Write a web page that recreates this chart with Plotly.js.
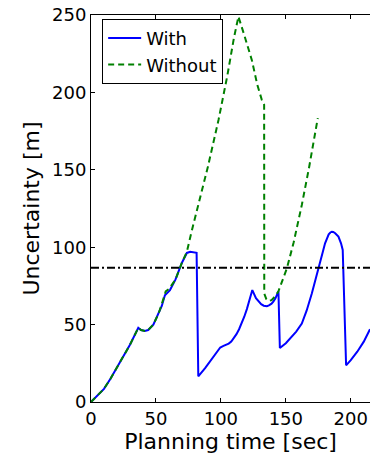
<!DOCTYPE html>
<html>
<head>
<meta charset="utf-8">
<script src="https://cdn.plot.ly/plotly-3.0.1.min.js"></script>
<style>html,body{margin:0;padding:0;background:#fff;overflow:hidden;}#chart{width:370px;height:455px;}</style>
</head>
<body>
<div id="chart"></div>
<script>
// Planning time [sec] and uncertainty [m] for "With"
const timeWith = [0, 3, 6.9, 10, 15, 20, 25, 30, 36.4, 38.5, 41.5, 44, 48, 52, 54.5, 56.9, 60.8, 65, 70, 73.8, 76.4, 81.3, 82.6, 88, 93, 99.5, 102, 104.6, 106, 108, 110, 112, 114, 116, 118, 120, 122, 124.2, 127, 129, 131, 133, 135.4, 137, 139, 140.5, 142, 144.3, 145.4, 150, 154.6, 158, 162.3, 166, 170, 173, 176.4, 178.5, 180.2, 181.5, 183, 184.3, 185.4, 186.5, 188, 190.5, 192.5, 193.8, 196.4, 200, 205, 210, 214.8];
const uncWith  = [0, 2.5, 5.4, 8.5, 15, 22.5, 29.5, 37, 47.9, 46.5, 45.9, 46.5, 50, 57, 62, 69, 72.3, 79, 90, 96.3, 97, 96.4, 16.6, 22, 28, 35.2, 36.2, 37, 37.7, 39.1, 41.1, 43.8, 47, 50.7, 55.1, 60, 65.6, 72.3, 67, 64.8, 63.2, 62.2, 61.9, 62.4, 63.5, 65, 67, 71.5, 34.9, 38, 42.1, 45.5, 50.7, 59, 70.1, 79, 89.5, 97, 102.5, 105.8, 108.3, 109.5, 110, 109.8, 109, 106.8, 102.5, 98.2, 23.7, 27, 32.5, 39, 47];
// "Without"
const timeWithout = [0, 3, 6.9, 10, 15, 20, 25, 30, 36.4, 38.5, 41.5, 44, 48, 52, 55.5, 57.5, 60, 65, 70, 73.8, 77.7, 85, 90, 98.2, 105, 110, 113.5, 118, 123.8, 128, 131.5, 133.3, 133.4, 135, 136.6, 139, 141.5, 144.3, 147, 150.8, 156, 162.3, 168, 174.6];
const uncWithout  = [0, 2.5, 5.4, 8.5, 15, 22.5, 29.5, 37, 47.9, 46.5, 45.9, 46.5, 50, 57, 66, 71.5, 73, 79, 90, 97, 111, 135, 152, 182.3, 211, 235, 249, 237, 221, 205, 195.2, 192, 70, 66.5, 65.2, 65.8, 68, 71.5, 78, 86.3, 103, 127.3, 152, 183.4];
// threshold
const thresholdValue = 86.7;
const xTicks = [0, 50, 100, 150, 200];
const yTicks = [0, 50, 100, 150, 200, 250];
const xRange = [0, 214.8];
const yRange = [0, 250];

const traces = [
  {x: timeWith, y: uncWith, mode: 'lines', name: 'With', line: {color: '#0000ff', width: 2}},
  {x: timeWithout, y: uncWithout, mode: 'lines', name: 'Without', line: {color: '#008000', width: 2, dash: '6px,4px'}},
  {x: xRange, y: [thresholdValue, thresholdValue], mode: 'lines', showlegend: false, line: {color: '#000000', width: 2, dash: '8px,3px,2px,3px'}}
];
const font = {family: 'DejaVu Sans', size: 18, color: '#000'};
const layout = {
  width: 370, height: 455,
  margin: {l: 90.7, r: 0, t: 15.3, b: 53.3},
  paper_bgcolor: '#fff', plot_bgcolor: '#fff',
  font: font,
  showlegend: true,
  legend: {x: 0.04, y: 0.99, xanchor: 'left', yanchor: 'top', bgcolor: '#fff', bordercolor: '#000', borderwidth: 1, itemwidth: 33, font: {family: 'DejaVu Sans', size: 18, color: '#000'}},
  xaxis: {range: xRange, tickvals: xTicks, ticks: 'inside', ticklen: 4, tickcolor: '#000', showline: true, linecolor: '#000', linewidth: 1, mirror: 'ticks', showgrid: false, zeroline: false,
          title: {text: 'Planning time [sec]', font: {family: 'DejaVu Sans', size: 22, color: '#000'}, standoff: 0}, tickfont: font},
  yaxis: {range: yRange, tickvals: yTicks, ticks: 'inside', ticklen: 4, tickcolor: '#000', showline: true, linecolor: '#000', linewidth: 1, mirror: false, showgrid: false, zeroline: false,
          title: {text: 'Uncertainty [m]', font: {family: 'DejaVu Sans', size: 22, color: '#000'}, standoff: 6}, tickfont: font}
};
Plotly.newPlot('chart', traces, layout, {displayModeBar: false, staticPlot: true});
</script>
</body>
</html>
